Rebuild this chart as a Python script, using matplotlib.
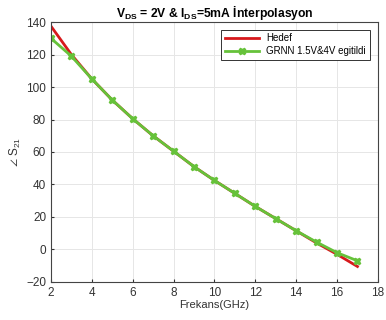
import numpy as np
import matplotlib
matplotlib.use("Agg")
import matplotlib.pyplot as plt

freq = [2, 3, 4, 5, 6, 7, 8, 9, 10, 11, 12, 13, 14, 15, 16, 17]
hedef = [137.5, 120, 105, 92, 80.5, 70, 60.5, 51, 42.5, 34.5, 26.5, 19, 11.5, 4, -3, -10.5]
grnn = [130, 119, 105, 92, 80.5, 70, 60.5, 51, 42.5, 34.5, 26.5, 19, 11.5, 4.5, -2, -7]

plt.rcParams['font.family'] = ['Liberation Sans', 'DejaVu Sans']
plt.rcParams['mathtext.fontset'] = 'custom'
plt.rcParams['mathtext.rm'] = 'Liberation Sans'
plt.rcParams['mathtext.bf'] = 'Liberation Sans:bold'

fig = plt.figure(figsize=(3.86, 3.2), dpi=100)
ax = fig.add_axes([0.132, 0.119, 0.847, 0.812])

ax.plot(freq, hedef, color='#d7191c', lw=2, label='Hedef')
ax.plot(freq, grnn, color='#66c23a', lw=2, marker='X', ms=5, label='GRNN 1.5V&4V egitildi')

ax.set_xlim(2, 18)
ax.set_ylim(-20, 140)
ax.set_xticks(np.arange(2, 19, 2))
ax.set_yticks(np.arange(-20, 141, 20))
ax.grid(True, color='#e6e6e6', lw=0.7)
ax.tick_params(labelsize=8.5, colors='#333333', length=2, direction='in')
for s in ax.spines.values():
    s.set_color('#444444')
    s.set_linewidth(0.8)

ax.set_xlabel('Frekans(GHz)', fontsize=8, color='#333333', labelpad=1)
ax.set_ylabel(r'$\angle$ S$_{21}$', fontsize=8.5, color='#333333', labelpad=2)
ax.set_title(r'$\mathbf{V_{DS}}$ = 2V & $\mathbf{I_{DS}}$=5mA İnterpolasyon',
             fontsize=8.7, fontweight='bold', pad=4)

leg = ax.legend(loc='upper right', fontsize=7, fancybox=False, framealpha=1,
                edgecolor='#333333', handlelength=3.5, borderpad=0.4, labelspacing=0.3,
                bbox_to_anchor=(0.99, 0.99))
leg.get_frame().set_linewidth(0.7)

fig.savefig('out.png', dpi=100)
